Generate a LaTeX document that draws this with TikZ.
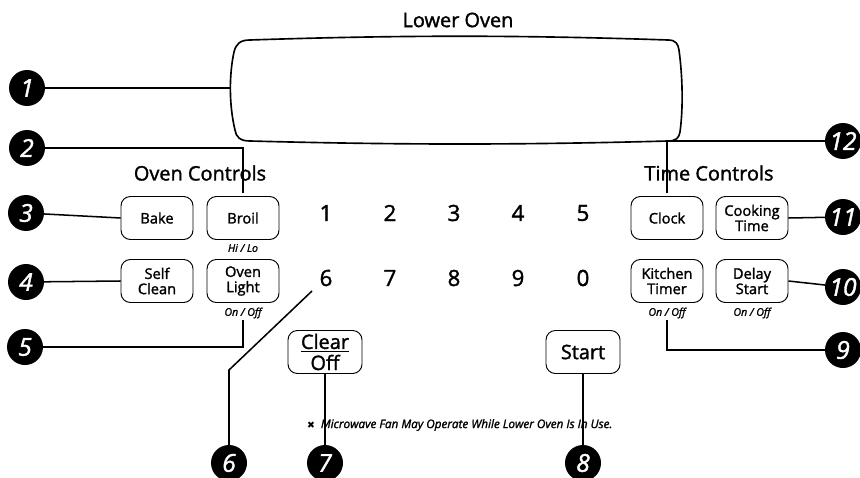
\documentclass[tikz,border=0pt]{standalone}
\usepackage{fontspec}
\setmainfont{Open Sans}[FakeBold=1.6]
\newfontfamily\symfont{DejaVu Sans}
\usetikzlibrary{positioning}

\tikzset{
  btn/.style={draw, line width=0.8pt, rounded corners=8pt, minimum width=2.16cm, minimum height=1.29cm, align=center, inner sep=1pt, font=\fontsize{12.5}{13}\selectfont},
  bigbtn/.style={btn, minimum width=2.22cm, font=\fontsize{17}{16}\selectfont},
  badge/.style={circle, fill=black, text=white, minimum size=1.08cm, inner sep=0pt, font=\fontsize{21}{21}\selectfont\itshape},
  lead/.style={line width=1.3pt},
  key/.style={font=\fontsize{19}{19}\selectfont},
  hint/.style={font=\fontsize{9}{9}\selectfont\itshape, inner sep=1pt},
  heading/.style={font=\fontsize{17}{17}\selectfont},
}

\begin{document}
\begin{tikzpicture}[x=0.03cm, y=-0.03cm]
    \useasboundingbox (0,0) rectangle (860,478);

    % display window
    \node[heading] (lower) at (458,20) {Lower Oven};
    \draw[line width=1.4pt] (250,40) .. controls (400,35) and (520,35) .. (668,40)
        .. controls (676,40) and (678,44) .. (679,50)
        .. controls (683,80) and (683,110) .. (680,132)
        .. controls (679,138) and (676,141) .. (668,141)
        .. controls (520,145) and (400,145) .. (250,141)
        .. controls (240,141) and (236,137) .. (235,130)
        .. controls (229,105) and (229,75) .. (234,52)
        .. controls (236,44) and (240,40) .. (250,40) -- cycle;
    \coordinate (dispL) at (230,88);

    % oven controls
    \node[heading] (ovenctl) at (200,173) {Oven Controls};
    \node[btn] (bake) at (157,218) {Bake};
    \node[btn] (broil) at (243,218) {Broil};
    \node[btn] (self) at (157,281) {Self\\Clean};
    \node[btn] (light) at (243,281) {Oven\\Light};
    \node[hint] (hilo) at (243,248) {Hi / Lo};
    \node[hint] (lighthint) at (243,313) {On / Off};

    % number pad
    \node[key] (d1) at (326,213) {1};
    \node[key] (d2) at (390,213) {2};
    \node[key] (d3) at (454,213) {3};
    \node[key] (d4) at (518,213) {4};
    \node[key] (d5) at (583,213) {5};
    \node[key] (d6) at (326,278) {6};
    \node[key] (d7) at (390,278) {7};
    \node[key] (d8) at (454,278) {8};
    \node[key] (d9) at (518,278) {9};
    \node[key] (d0) at (583,278) {0};

    \node[bigbtn] (clear) at (325,352) {\underline{Clear}\\[2pt]Off};
    \node[bigbtn] (start) at (583,352) {Start};

    % time controls
    \node[heading] (timectl) at (709,173) {Time Controls};
    \node[btn] (clock) at (667,218) {Clock};
    \node[btn] (cooking) at (752,218) {Cooking\\Time};
    \node[btn] (kitchen) at (667,281) {Kitchen\\Timer};
    \node[btn] (delay) at (752,281) {Delay\\Start};
    \node[hint] (kitchenhint) at (667,313) {On / Off};
    \node[hint] (delayhint) at (752,313) {On / Off};

    \node[anchor=west, font=\fontsize{10}{10}\selectfont\itshape] (note) at (303,425)
        {{\symfont\upshape\fontsize{8}{8}\selectfont ✖}\enspace Microwave Fan May Operate While Lower Oven Is In Use.};

    % callouts
    \node[badge] (b1) at (27,88) {1};
    \node[badge] (b2) at (27,148) {2};
    \node[badge] (b3) at (26,213) {3};
    \node[badge] (b4) at (26,282) {4};
    \node[badge] (b5) at (25,347) {5};
    \node[badge] (b6) at (229,463) {6};
    \node[badge] (b7) at (325,463) {7};
    \node[badge] (b8) at (583,463) {8};
    \node[badge] (b9) at (843,350) {9};
    \node[badge] (b10) at (843,287) {10};
    \node[badge] (b11) at (843,217) {11};
    \node[badge] (b12) at (843,141) {12};

    \coordinate (bend6) at (229,370);
    \coordinate (tip6) at (312,291);

    \draw[lead] (b1) -- (dispL);
    \draw[lead] (b2) -| ([yshift=3pt]broil.north);
    \draw[lead] (b3) -- (bake.west);
    \draw[lead] (b4) -- (self.west);
    \draw[lead] (b5) -| (lighthint.south);
    \draw[lead] (b6) -- (bend6) -- (tip6);
    \draw[lead] (b7) -- (clear.south);
    \draw[lead] (b8) -- (start.south);
    \draw[lead] (b9) -| (kitchenhint.south);
    \draw[lead] (b10) -- (delay.east);
    \draw[lead] (b11) -- (cooking.east);
    \draw[lead] (b12) -| ([yshift=3pt]clock.north);
\end{tikzpicture}
\end{document}
